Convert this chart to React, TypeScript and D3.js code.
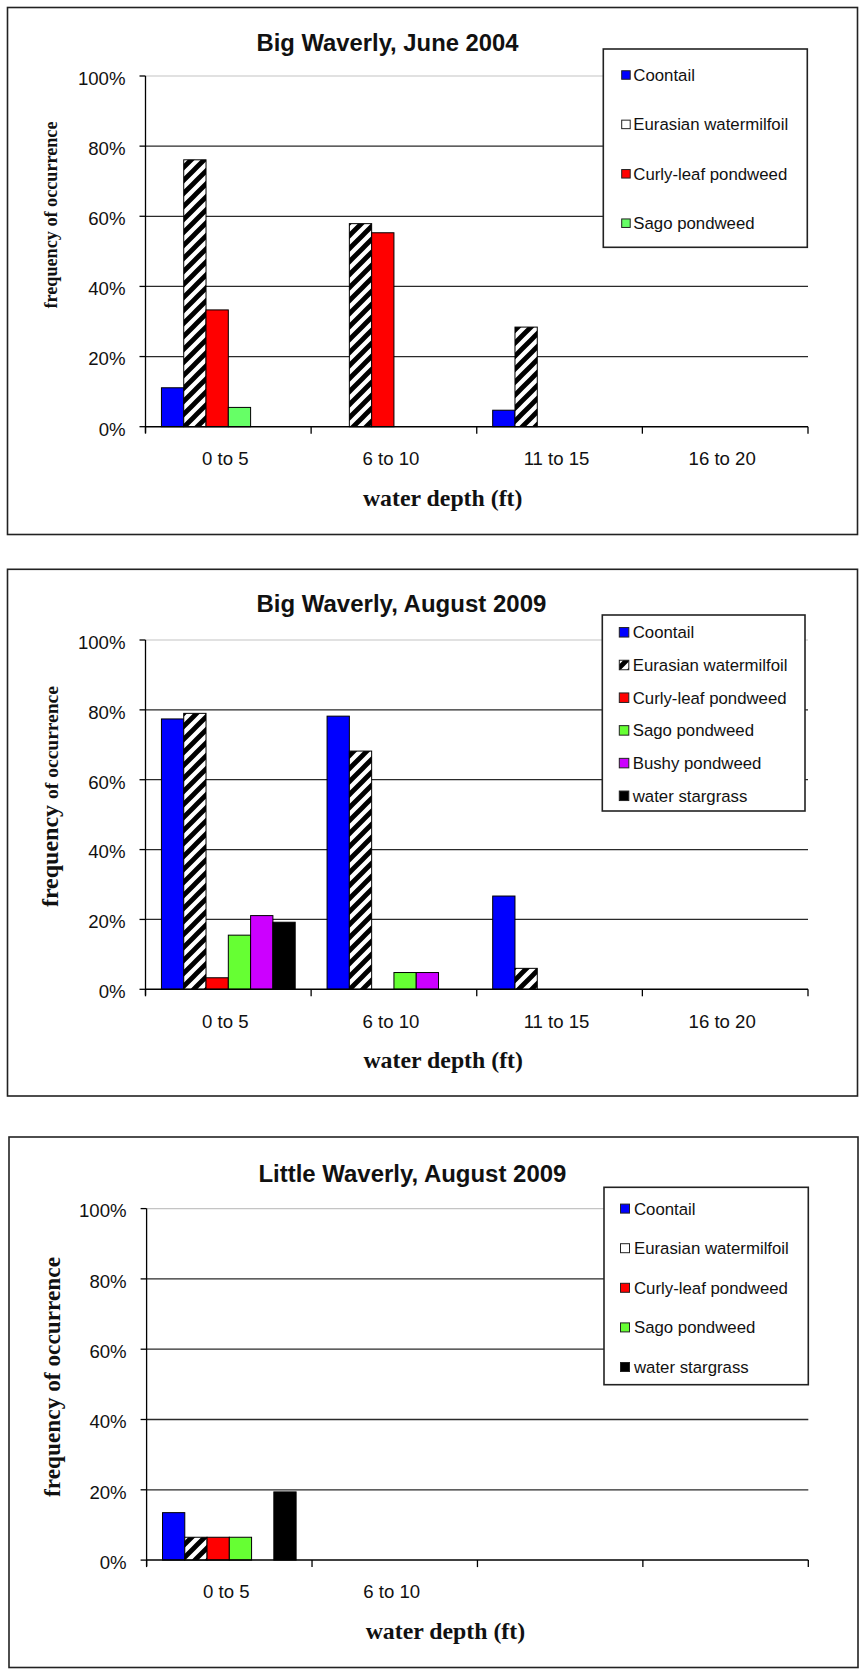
import React from "react";
import * as d3 from "d3";

// ---------- data ----------
const seriesNames = [
  "Coontail",
  "Eurasian watermilfoil",
  "Curly-leaf pondweed",
  "Sago pondweed",
  "Bushy pondweed",
  "water stargrass",
];
const depthCategories = ["0 to 5", "6 to 10", "11 to 15", "16 to 20"];
const littleCategories = ["0 to 5", "6 to 10", "", ""];
const yTicks = [0, 20, 40, 60, 80, 100];

// Big Waverly, June 2004 (null = species not in this survey)
const june2004Coontail = [11.1, 0, 4.7, 0];
const june2004Eurasian = [76.1, 57.9, 28.4, 0];
const june2004Curly = [33.3, 55.3, 0, 0];
const june2004Sago = [5.5, 0, 0, 0];
const june2004Bushy = null;
const june2004Stargrass = null;

// Big Waverly, August 2009
const bigAug2009Coontail = [77.4, 78.2, 26.7, 0];
const bigAug2009Eurasian = [79.0, 68.2, 6.0, 0];
const bigAug2009Curly = [3.3, 0, 0, 0];
const bigAug2009Sago = [15.5, 4.8, 0, 0];
const bigAug2009Bushy = [21.1, 4.8, 0, 0];
const bigAug2009Stargrass = [19.2, 0, 0, 0];

// Little Waverly, August 2009
const littleAug2009Coontail = [13.5, 0, 0, 0];
const littleAug2009Eurasian = [6.5, 0, 0, 0];
const littleAug2009Curly = [6.5, 0, 0, 0];
const littleAug2009Sago = [6.5, 0, 0, 0];
const littleAug2009Bushy = null;
const littleAug2009Stargrass = [19.4, 0, 0, 0];

// ---------- styles ----------
const SANS = "'Liberation Sans', Arial, sans-serif";
const SERIF = "'Liberation Serif', 'Times New Roman', serif";
const HATCH = "url(#hatch)";

type Layout = {
  box: [number, number, number, number];
  plotX: [number, number];
  plotY: [number, number];
  titleX: number;
  titleY: number;
  titleLength: number;
  legend: {
    x0: number; y0: number; x1: number; y1: number;
    firstY: number; step: number; swatchX: number; swatch: number; textX: number;
    entries: number[]; hatchSwatch: boolean;
  };
  yTitle: { x: number; y: number; parts: { t: string; size: number }[]; length?: number };
  xTitleX: number;
  xTitleY: number;
  xLabelY: number;
};

function BarChart({
  layout, title, categories, series, colors,
}: {
  layout: Layout; title: string; categories: string[];
  series: (number[] | null)[]; colors: string[];
}) {
  const L = layout;
  const x = d3.scaleBand<number>().domain(d3.range(categories.length)).range(L.plotX).padding(0);
  const inner = d3
    .scaleBand<number>()
    .domain(d3.range(seriesNames.length))
    .range([0, x.bandwidth()])
    .paddingInner(0)
    .paddingOuter(0.715);
  const y = d3.scaleLinear().domain([0, 100]).range(L.plotY);
  const [bx0, by0, bx1, by1] = L.box;
  const boundaries = d3.range(categories.length + 1).map((i) =>
    i < categories.length ? (x(i) as number) : L.plotX[1]
  );

  return (
    <g>
      <rect x={bx0} y={by0} width={bx1 - bx0} height={by1 - by0} fill="#fff" stroke="#222" strokeWidth={1.6} />
      <text x={L.titleX} y={L.titleY} textAnchor="middle" fontFamily={SANS} fontWeight="bold" fontSize={24.2} fill="#111"
        textLength={L.titleLength} lengthAdjust="spacingAndGlyphs">
        {title}
      </text>
      {/* gridlines */}
      {yTicks.filter((v) => v > 0).map((v) => (
        <line key={v} x1={L.plotX[0]} x2={L.plotX[1]} y1={y(v)} y2={y(v)}
          stroke={v === 100 ? "#c4c4c4" : "#2a2a2a"} strokeWidth={v === 100 ? 1.2 : 1.3} />
      ))}
      {/* bars */}
      {series.map((vals, si) =>
        vals
          ? vals.map((v, ci) =>
              v > 0 ? (
                <rect key={`${si}-${ci}`}
                  x={(x(ci) as number) + (inner(si) as number)}
                  y={y(v)}
                  width={inner.bandwidth()}
                  height={y(0) - y(v)}
                  fill={colors[si]}
                  stroke="#000" strokeWidth={1} />
              ) : null)
          : null
      )}
      {/* axes */}
      <line x1={L.plotX[0]} x2={L.plotX[0]} y1={y(100)} y2={y(0) + 6} stroke="#000" strokeWidth={1.3} />
      <line x1={L.plotX[0]} x2={L.plotX[1]} y1={y(0)} y2={y(0)} stroke="#000" strokeWidth={1.5} />
      {yTicks.map((v) => (
        <g key={v}>
          <line x1={L.plotX[0] - 6} x2={L.plotX[0]} y1={y(v)} y2={y(v)} stroke="#000" strokeWidth={1.3} />
          <text x={L.plotX[0] - 20} y={y(v) + 8.8} textAnchor="end" fontFamily={SANS} fontSize={18.6} fill="#111">
            {`${v}%`}
          </text>
        </g>
      ))}
      {boundaries.map((bx, i) => (
        <line key={i} x1={bx} x2={bx} y1={y(0)} y2={y(0) + 7} stroke="#000" strokeWidth={1.3} />
      ))}
      {categories.map((c, i) => (
        <text key={i} x={(x(i) as number) + x.bandwidth() / 2 - 3} y={L.xLabelY} textAnchor="middle"
          fontFamily={SANS} fontSize={18.6} fill="#111">
          {c}
        </text>
      ))}
      {/* axis titles */}
      <text x={L.xTitleX} y={L.xTitleY} textAnchor="middle" fontFamily={SERIF} fontWeight="bold" fontSize={23.8} fill="#111">
        water depth (ft)
      </text>
      <text transform={`translate(${L.yTitle.x},${L.yTitle.y}) rotate(-90)`} textAnchor="middle"
        fontFamily={SERIF} fontWeight="bold" fill="#111"
        textLength={L.yTitle.length} lengthAdjust={L.yTitle.length ? "spacingAndGlyphs" : undefined}>
        {L.yTitle.parts.map((p, i) => (
          <tspan key={i} fontSize={p.size}>{p.t}</tspan>
        ))}
      </text>
      {/* legend */}
      <rect x={L.legend.x0} y={L.legend.y0} width={L.legend.x1 - L.legend.x0} height={L.legend.y1 - L.legend.y0}
        fill="#fff" stroke="#222" strokeWidth={1.6} />
      {L.legend.entries.map((si, k) => {
        const cy = L.legend.firstY + k * L.legend.step;
        const s = L.legend.swatch;
        const fill = colors[si] === HATCH && !L.legend.hatchSwatch ? "#fff" : colors[si];
        return (
          <g key={si}>
            <rect x={L.legend.swatchX} y={cy - s / 2} width={s} height={s} fill={fill} stroke="#222" strokeWidth={1} />
            <text x={L.legend.textX} y={cy + 6} fontFamily={SANS} fontSize={16.8} fill="#111">
              {seriesNames[si]}
            </text>
          </g>
        );
      })}
    </g>
  );
}

const layout1: Layout = {
  box: [7.5, 7.5, 857.5, 534.5],
  plotX: [145.5, 808],
  plotY: [426.7, 76],
  titleX: 387.5,
  titleY: 50.7,
  titleLength: 262,
  legend: { x0: 603.3, y0: 49, x1: 807.3, y1: 247.3, firstY: 75, step: 49.4, swatchX: 621.7, swatch: 8.5, textX: 633.3, entries: [0, 1, 2, 3], hatchSwatch: false },
  yTitle: { x: 57.3, y: 215, parts: [{ t: "frequency of occurrence", size: 19 }], length: 187 },
  xTitleX: 442.7,
  xTitleY: 506,
  xLabelY: 465,
};

const layout2: Layout = {
  box: [7.5, 569.3, 857.5, 1096],
  plotX: [145.5, 808],
  plotY: [989.3, 640],
  titleX: 401.4,
  titleY: 611.5,
  titleLength: 290,
  legend: { x0: 602.3, y0: 615, x1: 805, y1: 811, firstY: 632.3, step: 32.7, swatchX: 619.3, swatch: 9.5, textX: 632.7, entries: [0, 1, 2, 3, 4, 5], hatchSwatch: true },
  yTitle: { x: 57.5, y: 796.6, parts: [{ t: "frequency ", size: 24 }, { t: "of occurrence", size: 19.5 }] },
  xTitleX: 443.2,
  xTitleY: 1067.5,
  xLabelY: 1028,
};

const layout3: Layout = {
  box: [9, 1137, 858, 1667.5],
  plotX: [146.6, 808.3],
  plotY: [1560.1, 1208.6],
  titleX: 412.4,
  titleY: 1182,
  titleLength: 308,
  legend: { x0: 604, y0: 1187.3, x1: 808.3, y1: 1384.7, firstY: 1208.6, step: 39.6, swatchX: 620.5, swatch: 9, textX: 634, entries: [0, 1, 2, 3, 5], hatchSwatch: false },
  yTitle: { x: 59.5, y: 1377, parts: [{ t: "frequency of occurrence", size: 23 }], length: 240 },
  xTitleX: 445.4,
  xTitleY: 1639,
  xLabelY: 1597.7,
};

export default function App() {
  const colors1 = ["#0000FF", HATCH, "#FF0000", "#66FF66", "#CC00FF", "#000000"];
  const colors2 = ["#0000FF", HATCH, "#FF0000", "#66FF33", "#CC00FF", "#000000"];
  return (
    <svg width={860} height={1675} viewBox="0 0 860 1675"
      style={{ position: "absolute", left: 0, top: 0, background: "#fff" }}>
      <defs>
        <pattern id="hatch" patternUnits="userSpaceOnUse" width={13} height={13}>
          <rect width={13} height={13} fill="#fff" />
          <path d="M-3.25,3.25 L3.25,-3.25 M0,13 L13,0 M9.75,16.25 L16.25,9.75" stroke="#000" strokeWidth={4.8} />
        </pattern>
      </defs>
      <rect width={860} height={1675} fill="#fff" />
      <BarChart layout={layout1} title="Big Waverly, June 2004" categories={depthCategories}
        series={[june2004Coontail, june2004Eurasian, june2004Curly, june2004Sago, june2004Bushy, june2004Stargrass]}
        colors={colors1} />
      <BarChart layout={layout2} title="Big Waverly, August 2009" categories={depthCategories}
        series={[bigAug2009Coontail, bigAug2009Eurasian, bigAug2009Curly, bigAug2009Sago, bigAug2009Bushy, bigAug2009Stargrass]}
        colors={colors2} />
      <BarChart layout={layout3} title="Little Waverly, August 2009" categories={littleCategories}
        series={[littleAug2009Coontail, littleAug2009Eurasian, littleAug2009Curly, littleAug2009Sago, littleAug2009Bushy, littleAug2009Stargrass]}
        colors={colors2} />
    </svg>
  );
}
